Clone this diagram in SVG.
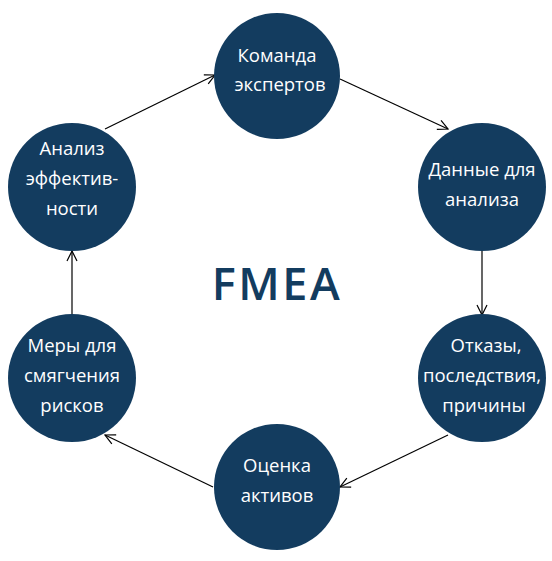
<svg xmlns="http://www.w3.org/2000/svg" width="552" height="561" viewBox="0 0 552 561">
<defs>
<marker id="arr" viewBox="0 0 12 12" refX="11" refY="6" markerWidth="12" markerHeight="12" markerUnits="userSpaceOnUse" orient="auto">
<path d="M1,1 L11,6 L1,11" fill="none" stroke="#000" stroke-width="1.2"/>
</marker>
<style>
.n{fill:#133c5f}
.t{fill:#fff;font-family:"Open Sans","DejaVu Sans",sans-serif;font-size:18.5px;text-anchor:middle}
.c{stroke:#000;stroke-width:1.2;fill:none;marker-end:url(#arr)}
</style>
</defs>
<rect width="552" height="561" fill="#fff"/>
<g id="connectors">
<line class="c" x1="105" y1="129" x2="215" y2="75"/>
<line class="c" x1="340" y1="79" x2="448" y2="129"/>
<line class="c" x1="482" y1="251" x2="482" y2="315"/>
<line class="c" x1="448" y1="435" x2="340" y2="487"/>
<line class="c" x1="213" y1="487" x2="105" y2="435"/>
<line class="c" x1="72" y1="315" x2="72" y2="251"/>
</g>
<g id="n1"><circle class="n" cx="277" cy="76" r="63"/>
<text class="t" x="277" y="62">Команда</text><text class="t" x="280" y="91">экспертов</text></g>
<g id="n2"><circle class="n" cx="482" cy="187" r="64"/>
<text class="t" x="482" y="176">Данные для</text><text class="t" x="482" y="206">анализа</text></g>
<g id="n3"><circle class="n" cx="482" cy="378" r="64"/>
<text class="t" x="486" y="352">Отказы,</text><text class="t" x="482" y="382">последствия,</text><text class="t" x="484" y="412">причины</text></g>
<g id="n4"><circle class="n" cx="277" cy="487" r="63"/>
<text class="t" x="277" y="472">Оценка</text><text class="t" x="277" y="502">активов</text></g>
<g id="n5"><circle class="n" cx="72" cy="378" r="64"/>
<text class="t" x="72" y="352">Меры для</text><text class="t" x="72" y="382">смягчения</text><text class="t" x="72" y="412">рисков</text></g>
<g id="n6"><circle class="n" cx="72" cy="187" r="64"/>
<text class="t" x="72" y="155">Анализ</text><text class="t" x="72" y="185">эффектив-</text><text class="t" x="72" y="215">ности</text></g>
<text x="277" y="300" fill="#133c5f" font-family="'Open Sans','Liberation Sans',sans-serif" font-weight="600" font-size="45" letter-spacing="2.5" text-anchor="middle">FMEA</text>
</svg>
